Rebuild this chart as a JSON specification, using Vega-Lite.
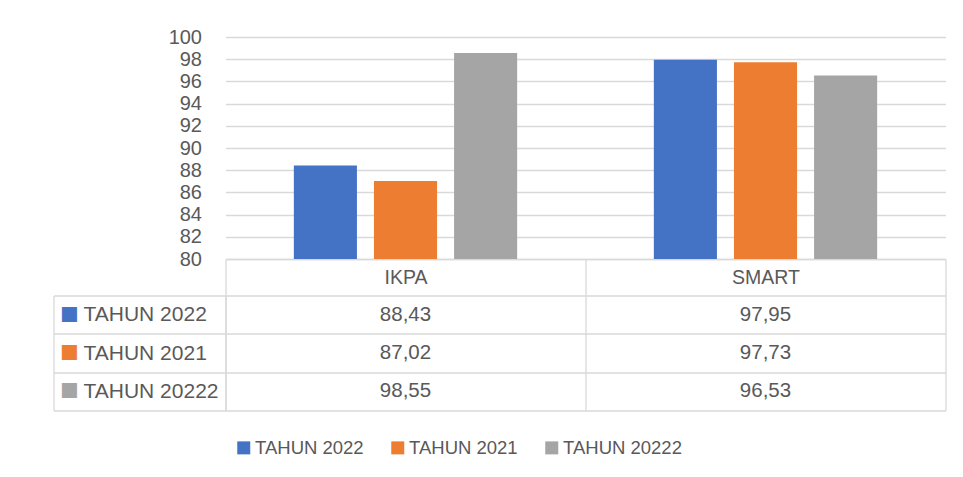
{
  "$schema": "https://vega.github.io/schema/vega-lite/v6.json",
  "padding": {"left": 52.5, "top": 27, "right": 0, "bottom": 0},
  "background": "white",
  "spacing": 36.5,
  "bounds": "flush",
  "datasets": {
    "scores": [
      {"category": "IKPA", "series": "TAHUN 2022", "value": 88.43},
      {"category": "IKPA", "series": "TAHUN 2021", "value": 87.02},
      {"category": "IKPA", "series": "TAHUN 20222", "value": 98.55},
      {"category": "SMART", "series": "TAHUN 2022", "value": 97.95},
      {"category": "SMART", "series": "TAHUN 2021", "value": 97.73},
      {"category": "SMART", "series": "TAHUN 20222", "value": 96.53}
    ]
  },
  "resolve": {"legend": {"color": "independent"}},
  "config": {
    "locale": {"number": {"decimal": ",", "thousands": ".", "grouping": [3], "currency": ["", ""]}},
    "view": {"stroke": null},
    "font": "Liberation Sans",
    "axis": {
      "labelFont": "Liberation Sans",
      "labelColor": "#595959",
      "domainColor": "#D9D9D9",
      "tickColor": "#D9D9D9",
      "gridColor": "#D9D9D9",
      "gridWidth": 1.3,
      "tickWidth": 1.3,
      "domainWidth": 1.3
    }
  },
  "vconcat": [
    {
      "width": 720,
      "height": 222,
      "data": {"name": "scores"},
      "mark": {"type": "bar"},
      "encoding": {
        "x": {
          "field": "category", "type": "nominal", "sort": ["IKPA", "SMART"],
          "scale": {"paddingInner": 0, "paddingOuter": 0},
          "axis": {"title": null, "orient": "bottom", "tickBand": "extent", "ticks": true, "tickSize": 36.5,
                   "labelAngle": 0, "labelFontSize": 19.5, "labelBaseline": "middle", "labelPadding": -18.25,
                   "grid": false}
        },
        "xOffset": {
          "field": "series", "type": "nominal", "sort": ["TAHUN 2022", "TAHUN 2021", "TAHUN 20222"],
          "scale": {"paddingInner": 0.2125, "paddingOuter": 0.853}
        },
        "y": {
          "field": "value", "type": "quantitative",
          "scale": {"domain": [80, 100], "zero": false, "nice": false},
          "axis": {"title": null, "values": [80, 82, 84, 86, 88, 90, 92, 94, 96, 98, 100], "ticks": false, "domain": false,
                   "labelFontSize": 20, "labelPadding": 24, "grid": true}
        },
        "y2": {"datum": 80},
        "color": {
          "field": "series", "type": "nominal", "sort": ["TAHUN 2022", "TAHUN 2021", "TAHUN 20222"],
          "scale": {"domain": ["TAHUN 2022", "TAHUN 2021", "TAHUN 20222"], "range": ["#4472C4", "#ED7D31", "#A5A5A5"]},
          "legend": null
        }
      }
    },
    {
      "width": 720,
      "height": 115,
      "data": {"name": "scores"},
      "layer": [
        {
          "mark": {"type": "text", "fontSize": 20.5, "color": "#595959", "font": "Liberation Sans"},
          "encoding": {
            "x": {
              "field": "category", "type": "nominal", "sort": ["IKPA", "SMART"],
              "scale": {"paddingInner": 0, "paddingOuter": 0},
              "axis": {"title": null, "labels": false, "ticks": false, "domain": false, "grid": true, "tickBand": "extent"}
            },
            "y": {
              "field": "series", "type": "nominal", "sort": ["TAHUN 2022", "TAHUN 2021", "TAHUN 20222"],
              "scale": {"paddingInner": 0, "paddingOuter": 0},
              "axis": {"title": null, "orient": "left", "grid": true, "tickBand": "extent", "ticks": true, "tickSize": 172, "domain": true,
                       "labelAlign": "left", "labelPadding": -29.5, "labelFontSize": 21, "labelBaseline": "middle"}
            },
            "text": {"field": "value", "type": "quantitative", "format": ".2f"}
          }
        },
        {
          "mark": {"type": "point", "shape": "square", "filled": true, "size": 0},
          "encoding": {
            "y": {
              "field": "series", "type": "nominal", "sort": ["TAHUN 2022", "TAHUN 2021", "TAHUN 20222"],
              "axis": {"title": null, "orient": "left", "offset": 172, "grid": false, "ticks": false, "domain": true,
                       "labelExpr": "'■'", "labelAlign": "left", "labelPadding": -6, "labelFontSize": 31, "labelBaseline": "middle",
                       "labelColor": {"condition": [{"test": "datum.value === 'TAHUN 2022'", "value": "#4472C4"}, {"test": "datum.value === 'TAHUN 2021'", "value": "#ED7D31"}], "value": "#A5A5A5"}}
            },
            "color": {
              "field": "series", "type": "nominal", "sort": ["TAHUN 2022", "TAHUN 2021", "TAHUN 20222"],
              "scale": {"domain": ["TAHUN 2022", "TAHUN 2021", "TAHUN 20222"], "range": ["#4472C4", "#ED7D31", "#A5A5A5"]},
              "legend": {"title": null, "orient": "none", "legendX": 9, "legendY": 143, "direction": "horizontal",
                         "symbolType": "square", "symbolSize": 169, "symbolStrokeWidth": 0, "symbolOpacity": 1,
                         "labelFontSize": 18.5, "labelFont": "Liberation Sans", "labelColor": "#595959",
                         "labelOffset": 2, "columnPadding": 24}
            }
          }
        }
      ],
      "resolve": {"axis": {"y": "independent"}}
    }
  ]
}
